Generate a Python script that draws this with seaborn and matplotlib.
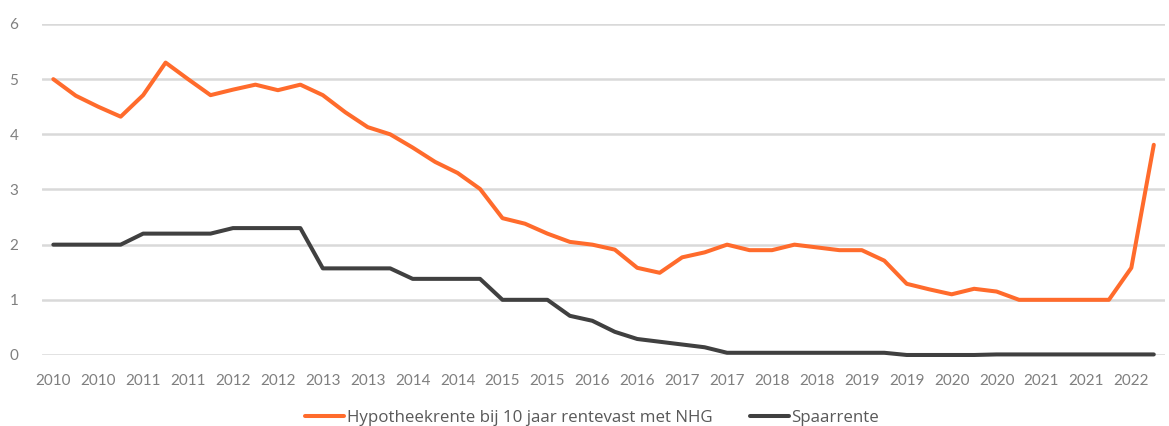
import pandas as pd
import numpy as np
import matplotlib.pyplot as plt
import seaborn as sns

# kwartalen 2010 - 2022, label bij elke tweede
labels = ['2010', '2010', '2011', '2011', '2012', '2012', '2013', '2013', '2014', '2014',
          '2015', '2015', '2016', '2016', '2017', '2017', '2018', '2018', '2019', '2019',
          '2020', '2020', '2021', '2021', '2022']

hypotheek = [5.0, 4.7, 4.5, 4.32, 4.71, 5.3, 5.0, 4.71, 4.81, 4.9,
             4.8, 4.9, 4.71, 4.4, 4.13, 4.0, 3.76, 3.5, 3.3, 3.01,
             2.48, 2.38, 2.2, 2.05, 2.0, 1.91, 1.58, 1.49, 1.77, 1.86,
             2.0, 1.9, 1.9, 2.0, 1.95, 1.9, 1.9, 1.71, 1.29, 1.19,
             1.1, 1.2, 1.15, 1.0, 1.0, 1.0, 1.0, 1.0, 1.58, 3.81]

spaar = [2.0, 2.0, 2.0, 2.0, 2.2, 2.2, 2.2, 2.2, 2.3, 2.3,
         2.3, 2.3, 1.57, 1.57, 1.57, 1.57, 1.38, 1.38, 1.38, 1.38,
         1.0, 1.0, 1.0, 0.71, 0.62, 0.42, 0.29, 0.24, 0.19, 0.14,
         0.04, 0.04, 0.04, 0.04, 0.04, 0.04, 0.04, 0.04, 0.0, 0.0,
         0.0, 0.0, 0.01, 0.01, 0.01, 0.01, 0.01, 0.01, 0.01, 0.01]

naam_h = 'Hypotheekrente bij 10 jaar rentevast met NHG'
naam_s = 'Spaarrente'

df = pd.DataFrame({
    'kwartaal': list(range(len(hypotheek))) * 2,
    'rente': hypotheek + spaar,
    'soort': [naam_h] * len(hypotheek) + [naam_s] * len(spaar),
})

sns.set_style('white')
plt.rcParams['font.family'] = ['Lato', 'DejaVu Sans']

fig = plt.figure(figsize=(11.69, 4.26), dpi=100)
ax = fig.add_axes([0.036, 0.1667, 0.9606, 0.777])

sns.lineplot(data=df, x='kwartaal', y='rente', hue='soort',
             palette={naam_h: '#FF6B2C', naam_s: '#404040'},
             linewidth=2.9, ax=ax, zorder=3)
for ln in ax.lines:
    ln.set_solid_capstyle('round')
    ln.set_clip_on(False)

ax.set_xlim(-0.5, 49.5)
ax.set_ylim(0, 6)
ax.set_yticks(range(0, 7))
ax.set_xticks(range(0, 50, 2))
ax.set_xticklabels(labels)
ax.yaxis.grid(True, color='#D9D9D9', linewidth=1.8)
ax.set_axisbelow(True)
for s in ax.spines.values():
    s.set_visible(False)
ax.tick_params(axis='both', length=0, colors='#7F7F7F', labelsize=11)
ax.tick_params(axis='y', pad=17)
ax.tick_params(axis='x', pad=14)
ax.set_xlabel('')
ax.set_ylabel('')

leg = ax.legend(loc='upper center', bbox_to_anchor=(0.49, -0.12), ncol=2, frameon=False,
                prop={'family': 'Open Sans', 'size': 12.2}, handlelength=2.3,
                handletextpad=0.15, columnspacing=2.2, labelcolor='#595959')

plt.savefig('out.png', dpi=100)
